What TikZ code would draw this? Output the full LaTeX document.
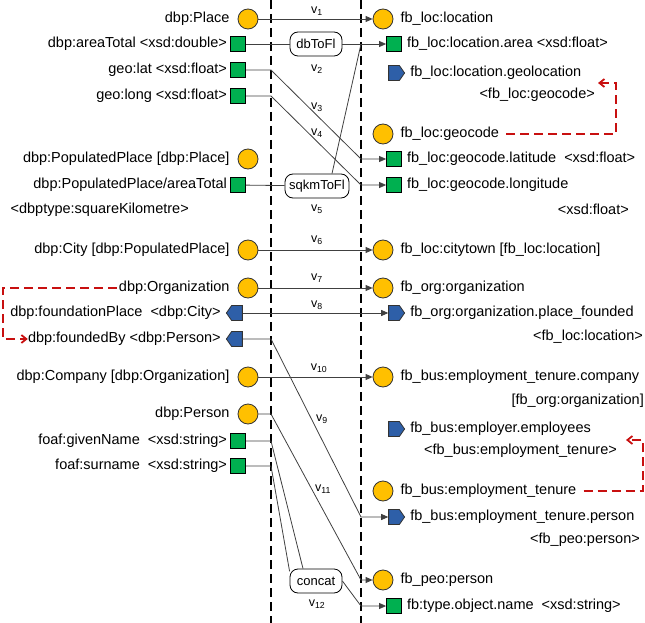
\documentclass[tikz,border=0pt]{standalone}
\usepackage{fontspec}
\setmainfont{Liberation Sans}
\usepackage{tikz}
\usetikzlibrary{positioning, arrows.meta, shapes.symbols}
\usepackage{xcolor}
\definecolor{classgold}{RGB}{255, 192, 0}
\definecolor{propgreen}{RGB}{0, 176, 80}
\definecolor{objblue}{RGB}{46, 95, 168}
\definecolor{mapred}{RGB}{200, 16, 16}
\newcommand{\mapv}[1]{v\textsubscript{#1}}

\begin{document}
\begin{tikzpicture}[x=1pt, y=-1pt,
    cls/.style={circle, draw=black!80, fill=classgold, minimum size=20pt, inner sep=0pt, line width=0.8pt},
    dprop/.style={rectangle, draw=black, fill=propgreen, minimum size=15pt, inner sep=0pt, line width=0.8pt},
    oprop/.style={signal, signal pointer angle=110, draw=black!80, fill=objblue, minimum width=16pt, minimum height=15pt, inner sep=0pt, line width=0.8pt},
    lbl/.style={font=\fontsize{14.5}{16}\selectfont, inner sep=0pt},
    vlbl/.style={font=\fontsize{12.5}{14}\selectfont, inner sep=0pt},
    fn/.style={rectangle, rounded corners=8pt, draw=black, fill=white, line width=0.8pt, font=\fontsize{13}{15}\selectfont, minimum height=24pt, inner sep=2pt},
    link/.style={black!75, line width=0.8pt},
    arrow/.style={link, -{Triangle[length=7pt, width=6pt]}},
    sep/.style={line width=2.5pt, dash pattern=on 9pt off 5pt},
    ref/.style={mapred, line width=1.8pt, dash pattern=on 9pt off 5pt, -{Straight Barb[length=5pt, width=8pt]}}
]
    \useasboundingbox (0,0) rectangle (645,623);

    % Separators
    \coordinate (lsep) at (271,0);
    \coordinate (rsep) at (361,0);
    \draw[sep] (lsep) -- ++(0,623);
    \draw[sep] (rsep) -- ++(0,623);

    % DBpedia side
    \node[cls] (p1) at (248,19) {};
    \node[lbl, left=8pt of p1] (p1T) {dbp:Place};
    \node[dprop] (a1) at (238,44) {};
    \node[lbl, left=3pt of a1] (a1T) {dbp:areaTotal <xsd:double>};
    \node[dprop] (lat) at (238,70) {};
    \node[lbl, left=3pt of lat] (latT) {geo:lat <xsd:float>};
    \node[dprop] (long) at (238,96) {};
    \node[lbl, left=3pt of long] (longT) {geo:long <xsd:float>};
    \node[cls] (pp) at (248,159) {};
    \node[lbl, left=8pt of pp] (ppT) {dbp:PopulatedPlace [dbp:Place]};
    \node[dprop] (ppa) at (238,185) {};
    \node[lbl, left=3pt of ppa] (ppaT) {dbp:PopulatedPlace/areaTotal};
    \node[lbl, anchor=east] (ppaT2) at (189,210) {<dbptype:squareKilometre>};
    \node[cls] (city) at (248,250) {};
    \node[lbl, left=8pt of city] (cityT) {dbp:City [dbp:PopulatedPlace]};
    \node[cls] (org) at (248,288) {};
    \node[lbl, left=8pt of org] (orgT) {dbp:Organization};
    \node[oprop, signal to=west] (fplace) at (237,313) {};
    \node[lbl, left=5pt of fplace] (fplaceT) {dbp:foundationPlace \ <dbp:City>};
    \node[oprop, signal to=west] (fby) at (237,339) {};
    \node[lbl, left=5pt of fby] (fbyT) {dbp:foundedBy <dbp:Person>};
    \node[cls] (comp) at (248,377) {};
    \node[lbl, left=8pt of comp] (compT) {dbp:Company [dbp:Organization]};
    \node[cls] (pers) at (248,414) {};
    \node[lbl, left=8pt of pers] (persT) {dbp:Person};
    \node[dprop] (gname) at (238,441) {};
    \node[lbl, left=3pt of gname] (gnameT) {foaf:givenName \ <xsd:string>};
    \node[dprop] (sname) at (238,466) {};
    \node[lbl, left=3pt of sname] (snameT) {foaf:surname \ <xsd:string>};

    % Freebase side
    \node[cls] (loc) at (383,19) {};
    \node[lbl, right=7pt of loc] (locT) {fb\_loc:location};
    \node[dprop] (area) at (394,44) {};
    \node[lbl, right=5pt of area] (areaT) {fb\_loc:location.area <xsd:float>};
    \node[oprop, signal to=east] (geoloc) at (394,73) {};
    \node[lbl, right=5pt of geoloc] (geolocT) {fb\_loc:location.geolocation};
    \node[lbl, anchor=east] (geolocT2) at (595,95) {<fb\_loc:geocode>};
    \node[cls] (geocode) at (383,134) {};
    \node[lbl, right=7pt of geocode] (geocodeT) {fb\_loc:geocode};
    \node[dprop] (glat) at (394,159) {};
    \node[lbl, right=5pt of glat] (glatT) {fb\_loc:geocode.latitude \ <xsd:float>};
    \node[dprop] (glong) at (394,185) {};
    \node[lbl, right=5pt of glong] (glongT) {fb\_loc:geocode.longitude};
    \node[lbl, anchor=east] (glongT2) at (629,209) {<xsd:float>};
    \node[cls] (town) at (383,250) {};
    \node[lbl, right=7pt of town] (townT) {fb\_loc:citytown [fb\_loc:location]};
    \node[cls] (forg) at (383,288) {};
    \node[lbl, right=7pt of forg] (forgT) {fb\_org:organization};
    \node[oprop, signal to=east] (pfound) at (394,313) {};
    \node[lbl, right=5pt of pfound] (pfoundT) {fb\_org:organization.place\_founded};
    \node[lbl, anchor=east] (pfoundT2) at (643,337) {<fb\_loc:location>};
    \node[cls] (etcomp) at (383,377) {};
    \node[lbl, right=7pt of etcomp] (etcompT) {fb\_bus:employment\_tenure.company};
    \node[lbl, anchor=east] (etcompT2) at (644,401) {[fb\_org:organization]};
    \node[oprop, signal to=east] (emps) at (394,429) {};
    \node[lbl, right=5pt of emps] (empsT) {fb\_bus:employer.employees};
    \node[lbl, anchor=east] (empsT2) at (617,451) {<fb\_bus:employment\_tenure>};
    \node[cls] (etenure) at (383,491) {};
    \node[lbl, right=7pt of etenure] (etenureT) {fb\_bus:employment\_tenure};
    \node[oprop, signal to=east] (etpers) at (394,517) {};
    \node[lbl, right=5pt of etpers] (etpersT) {fb\_bus:employment\_tenure.person};
    \node[lbl, anchor=east] (etpersT2) at (640,540) {<fb\_peo:person>};
    \node[cls] (peo) at (383,580) {};
    \node[lbl, right=7pt of peo] (peoT) {fb\_peo:person};
    \node[dprop] (oname) at (394,606) {};
    \node[lbl, right=5pt of oname] (onameT) {fb:type.object.name \ <xsd:string>};

    % Functions
    \node[fn, minimum width=52pt] (dbToFl) at (316,44) {dbToFl};
    \node[fn, minimum width=64pt] (sqkmToFl) at (317,186) {sqkmToFl};
    \node[fn, minimum width=52pt] (concat) at (316,581) {concat};

    % Direct mappings
    \foreach \s/\t in {p1/loc, city/town, org/forg, fplace/pfound, comp/etcomp} {
        \draw[arrow] (\s) -- (\t);
    }
    % Mappings through functions
    \draw[link] (a1) -- (dbToFl);
    \draw[arrow] (dbToFl) -- (area);
    \draw[link] (ppa) -- (sqkmToFl);
    \draw[link] ([xshift=15pt]sqkmToFl.north) -- (area -| rsep);
    \draw[link] (gname) -- (gname -| lsep) -- ([xshift=-13pt]concat.north);
    \draw[link] (sname) -- (sname -| lsep) -- (concat.160);
    \draw[arrow] (concat.east) -- (oname -| rsep) -- (oname);
    % Crossing mappings
    \foreach \s/\t in {lat/glat, long/glong, fby/etpers, pers/peo} {
        \draw[arrow] (\s) -- (\s -| lsep) -- (\t -| rsep) -- (\t);
    }

    % Mapping labels
    \node[vlbl] (v1) at (317,11) {\mapv{1}};
    \node[vlbl] (v2) at (317,69) {\mapv{2}};
    \node[vlbl] (v3) at (317,107) {\mapv{3}};
    \node[vlbl] (v4) at (317,133) {\mapv{4}};
    \node[vlbl] (v5) at (317,209) {\mapv{5}};
    \node[vlbl] (v6) at (317,240) {\mapv{6}};
    \node[vlbl] (v7) at (317,278) {\mapv{7}};
    \node[vlbl] (v8) at (317,305) {\mapv{8}};
    \node[vlbl] (v9) at (322,419) {\mapv{9}};
    \node[vlbl] (v10) at (319,368) {\mapv{10}};
    \node[vlbl] (v11) at (323,489) {\mapv{11}};
    \node[vlbl] (v12) at (317,604) {\mapv{12}};

    % Range references
    \coordinate (geoTip) at (598,83);
    \coordinate (empTip) at (626,440);
    \draw[ref] ([xshift=7pt]geocodeT.east) -| (616,110) |- (geoTip);
    \draw[ref] ([xshift=-2pt]orgT.west) -| (3,310) |- (fbyT.west);
    \draw[ref] ([xshift=7pt]etenureT.east) -| (643,470) |- (empTip);
\end{tikzpicture}
\end{document}
